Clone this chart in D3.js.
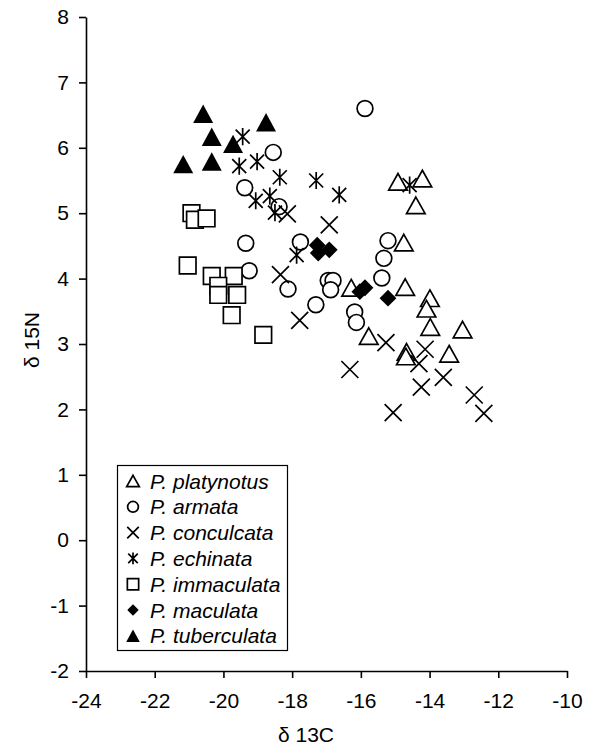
<!DOCTYPE html>
<html><head><meta charset="utf-8">
<script src="https://cdn.jsdelivr.net/npm/d3@7"></script>
<style>
body{margin:0;background:#fff}
svg{display:block}
text{font-family:Arial,"Liberation Sans",sans-serif;fill:#000}
</style>
</head><body>
<svg id="c" width="593" height="746"></svg>
<script>
// ---- data: [δ13C, δ15N] ----
const platynotus = [[-14.92,5.48],[-14.21,5.53],[-14.40,5.12],[-14.75,4.55],[-16.28,3.86],[-14.71,3.87],[-13.99,3.70],[-14.09,3.54],[-13.98,3.26],[-13.04,3.22],[-15.77,3.12],[-14.67,2.88],[-14.69,2.81],[-13.43,2.85]];
const armata = [[-15.88,6.60],[-18.55,5.93],[-19.38,5.39],[-18.38,5.10],[-19.35,4.54],[-17.76,4.56],[-19.25,4.12],[-18.12,3.84],[-16.95,3.97],[-16.81,3.97],[-16.88,3.83],[-17.31,3.60],[-16.18,3.49],[-16.13,3.33],[-15.21,4.58],[-15.33,4.31],[-15.39,4.01]];
const conculcata = [[-18.14,4.99],[-16.92,4.82],[-18.34,4.06],[-17.78,3.36],[-15.27,3.02],[-16.32,2.61],[-14.13,2.92],[-14.31,2.70],[-14.24,2.34],[-15.06,1.95],[-13.60,2.49],[-12.70,2.22],[-12.42,1.94]];
const echinata = [[-19.44,6.17],[-19.54,5.72],[-19.02,5.79],[-18.36,5.55],[-17.30,5.50],[-19.06,5.19],[-18.65,5.26],[-18.50,5.01],[-16.63,5.28],[-14.58,5.43],[-17.87,4.36]];
const immaculata = [[-20.93,5.00],[-20.83,4.90],[-20.49,4.92],[-21.04,4.20],[-20.34,4.04],[-19.70,4.04],[-20.15,3.89],[-20.15,3.75],[-19.60,3.75],[-19.76,3.44],[-18.84,3.14]];
const maculata = [[-17.27,4.51],[-16.92,4.44],[-17.24,4.39],[-15.88,3.86],[-16.03,3.80],[-15.21,3.70]];
const tuberculata = [[-20.59,6.52],[-18.76,6.39],[-20.34,6.17],[-19.72,6.06],[-21.17,5.75],[-20.34,5.79]];

const seriesNames = ["P. platynotus","P. armata","P. conculcata","P. echinata","P. immaculata","P. maculata","P. tuberculata"];
const seriesData = [platynotus, armata, conculcata, echinata, immaculata, maculata, tuberculata];
const seriesSymbols = ["triangle","circle","cross","asterisk","square","diamond","filledTriangle"];
const xTicks = [-24,-22,-20,-18,-16,-14,-12,-10];
const yTicks = [-2,-1,0,1,2,3,4,5,6,7,8];
const xTitle = "δ 13C";
const yTitle = "δ 15N";

// ---- drawing ----
const svg = d3.select("#c");
const x = d3.scaleLinear().domain([-24,-10]).range([86,567]);
const y = d3.scaleLinear().domain([-2,8]).range([671,17]);

function symPath(type, s){
  if(type==="triangle"){const w=9.3*s,h=8.3*s;return `M0,${-h}L${w},${h}L${-w},${h}Z`;}
  if(type==="filledTriangle"){const w=10*s,h=9.2*s;return `M0,${-h}L${w},${h}L${-w},${h}Z`;}
  if(type==="circle"){const r=7.9*s;return `M${r},0A${r},${r} 0 1,1 ${-r},0A${r},${r} 0 1,1 ${r},0Z`;}
  if(type==="cross"){const a=8.5*s;return `M${-a},${-a}L${a},${a}M${-a},${a}L${a},${-a}`;}
  if(type==="asterisk"){const a=7*s,v=8.6*s;return `M${-a},${-a}L${a},${a}M${-a},${a}L${a},${-a}M0,${-v}L0,${v}`;}
  if(type==="square"){const a=8.3*s;return `M${-a},${-a}H${a}V${a}H${-a}Z`;}
  if(type==="diamond"){const a=8.4*s;return `M0,${-a}L${a},0L0,${a}L${-a},0Z`;}
}
function symStyle(sel,type){
  const filled = (type==="diamond"||type==="filledTriangle");
  const line = (type==="cross"||type==="asterisk");
  sel.attr("fill", filled ? "#000" : (line ? "none" : "#fff"))
     .attr("stroke", filled ? "none" : "#000")
     .attr("stroke-width", 1.7)
     .attr("stroke-linejoin","miter");
}

// axes
const gx = svg.append("g").attr("transform","translate(0,671)")
  .call(d3.axisBottom(x).tickValues(xTicks).tickSizeInner(7).tickSizeOuter(0).tickPadding(15).tickFormat(d=>String(d)));
const gy = svg.append("g").attr("transform","translate(86,0)")
  .call(d3.axisLeft(y).tickValues(yTicks).tickSizeInner(7).tickSizeOuter(0).tickPadding(10).tickFormat(d=>String(d)));
[gx,gy].forEach(g=>{
  g.selectAll("path.domain").attr("stroke","#000").attr("stroke-width",1.6);
  g.selectAll(".tick line").attr("stroke","#000").attr("stroke-width",1.6);
  g.selectAll(".tick text").attr("font-size",21).attr("font-family","Arial, 'Liberation Sans', sans-serif").attr("fill","#000");
});

// axis titles
svg.append("text").attr("x",306).attr("y",742).attr("text-anchor","middle").attr("font-size",21).text(xTitle);
svg.append("text").attr("transform","translate(39,340) rotate(-90)").attr("text-anchor","middle").attr("font-size",21).text(yTitle);

// points
seriesData.forEach((data,i)=>{
  const type = seriesSymbols[i];
  const g = svg.append("g");
  g.selectAll("path").data(data).join("path")
    .attr("d", symPath(type,1))
    .attr("transform", d=>`translate(${x(d[0])},${y(d[1])})`)
    .call(symStyle,type);
});

// legend
const lg = svg.append("g");
lg.append("rect").attr("x",117.5).attr("y",465.5).attr("width",170).attr("height",185)
  .attr("fill","#fff").attr("stroke","#000").attr("stroke-width",1.2);
seriesNames.forEach((name,i)=>{
  const cy = 481 + i*25.8;
  const type = seriesSymbols[i];
  lg.append("path").attr("d",symPath(type,0.68)).attr("transform",`translate(133,${cy})`).call(symStyle,type);
  const t = lg.append("text").attr("x",150).attr("y",cy).attr("dy","0.36em").attr("font-size",21);
  t.append("tspan").attr("font-style","italic").text(name);
});
</script>
</body></html>
